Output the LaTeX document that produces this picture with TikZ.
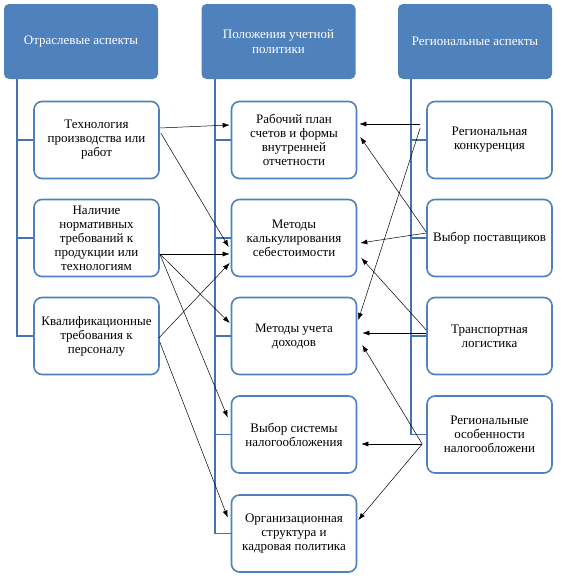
\documentclass[tikz,border=0pt]{standalone}
\usepackage{fontspec}
\setmainfont{Liberation Serif}
\newfontfamily\tnr{Liberation Serif}
\usetikzlibrary{arrows.meta}
\definecolor{hdrblue}{HTML}{4F81BD}
\definecolor{boxblue}{HTML}{4F81BD}
\definecolor{trunkblue}{HTML}{4472B4}
\tikzset{
  hdr/.style={fill=hdrblue, draw=none, rounded corners=5pt, text=white,
    minimum width=154pt, minimum height=75pt, align=center, inner sep=0pt,
    font=\tnr\fontsize{13}{14.5}\selectfont},
  cbox/.style={draw=boxblue, line width=1.6pt, fill=white, rounded corners=8pt,
    minimum width=125pt, minimum height=77pt, align=center, inner sep=0pt,
    font=\tnr\fontsize{13}{14}\selectfont},
  trunk/.style={draw=trunkblue, line width=1.6pt, line join=miter},
  arr/.style={draw=black, line width=0.5pt, -{Latex[length=7pt,width=5pt]}}
}
\begin{document}
\begin{tikzpicture}[x=1pt,y=-1pt]
\useasboundingbox[fill=white] (0,0) rectangle (562,582);
% headers
\node[hdr] (hL) at (81,41.5) {Отраслевые аспекты};
\node[hdr] (hM) at (278.5,41.5) {Положения учетной\\политики};
\node[hdr] (hR) at (475,41.5) {Региональные аспекты};
% trunk coordinates
\coordinate (tl) at (17,79);
\coordinate (tm) at (215,79);
\coordinate (tr) at (411,79);
% left boxes
\node[cbox] (L1) at (96.5,140) {Технология\\производства или\\работ};
\node[cbox] (L2) at (96.5,238) {Наличие\\нормативных\\требований к\\продукции или\\технологиям};
\node[cbox] (L3) at (96.5,336) {Квалификационные\\требования к\\персоналу};
% middle boxes
\node[cbox] (M1) at (294,140) {Рабочий план\\счетов и формы\\внутренней\\отчетности};
\node[cbox] (M2) at (294,238) {Методы\\калькулирования\\себестоимости};
\node[cbox] (M3) at (294,336) {Методы учета\\доходов};
\node[cbox] (M4) at (294,434.5) {Выбор системы\\налогообложения};
\node[cbox] (M5) at (294,533.5) {Организационная\\структура и\\кадровая политика};
% right boxes
\node[cbox] (R1) at (489.5,140) {Региональная\\конкуренция};
\node[cbox] (R2) at (489.5,238) {Выбор поставщиков};
\node[cbox] (R3) at (489.5,336) {Транспортная\\логистика};
\node[cbox] (R4) at (489.5,434.5) {Региональные\\особенности\\налогообложени};
% trunks
\draw[trunk] (tl) |- (L3.west) (tl |- L1.west) -- (L1.west) (tl |- L2.west) -- (L2.west);
\draw[trunk] (tm) |- (M5.west) (tm |- M1.west) -- (M1.west) (tm |- M2.west) -- (M2.west)
  (tm |- M3.west) -- (M3.west) (tm |- M4.west) -- (M4.west);
\draw[trunk] (tr) |- (R4.west) (tr |- R1.west) -- (R1.west) (tr |- R2.west) -- (R2.west)
  (tr |- R3.west) -- (R3.west);
% left arrows
\draw[arr] ([yshift=12pt]L1.east) -- ([xshift=-1pt,yshift=15pt]M1.west);
\draw[arr] ([xshift=1pt,yshift=7pt]L1.east) -- ([xshift=-2pt,yshift=-9pt]M2.west);
\draw[arr] ([yshift=-16pt]L2.east) -- ([xshift=-1pt,yshift=-16pt]M2.west);
\draw[arr] ([yshift=-16pt]L2.east) -- ([xshift=-1pt,yshift=13pt]M3.west);
\draw[arr] ([yshift=-16pt]L2.east) -- ([xshift=-3pt,yshift=17pt]M4.west);
\draw[arr] ([xshift=-1pt,yshift=-2pt]L3.east) -- ([xshift=-1pt,yshift=-25pt]M2.west);
\draw[arr] ([yshift=-6pt]L3.east) -- ([xshift=-3pt,yshift=16pt]M5.west);
% right arrows
\draw[arr] ([xshift=-6pt,yshift=16pt]R1.west) -- ([xshift=2pt,yshift=16pt]M1.east);
\draw[arr] ([xshift=-6pt,yshift=12pt]R1.west) -- ([xshift=1pt,yshift=16pt]M3.east);
\draw[arr] ([yshift=6pt]R2.west) -- ([xshift=3pt,yshift=3pt]M1.east);
\draw[arr] ([yshift=5pt]R2.west) -- ([xshift=3pt,yshift=-5pt]M2.east);
\draw[arr] ([yshift=6pt]R3.west) -- ([xshift=4pt,yshift=-20pt]M2.east);
\draw[arr] ([yshift=3pt]R3.west) -- ([xshift=5pt,yshift=3pt]M3.east);
\draw[arr] ([xshift=-4pt,yshift=-9.5pt]R4.west) -- ([xshift=5pt,yshift=-9pt]M3.east);
\draw[arr] ([xshift=-4pt,yshift=-9.5pt]R4.west) -- ([xshift=4pt,yshift=-9.5pt]M4.east);
\draw[arr] ([xshift=-4pt,yshift=-9.5pt]R4.west) -- ([xshift=1pt,yshift=13.5pt]M5.east);
\end{tikzpicture}
\end{document}
